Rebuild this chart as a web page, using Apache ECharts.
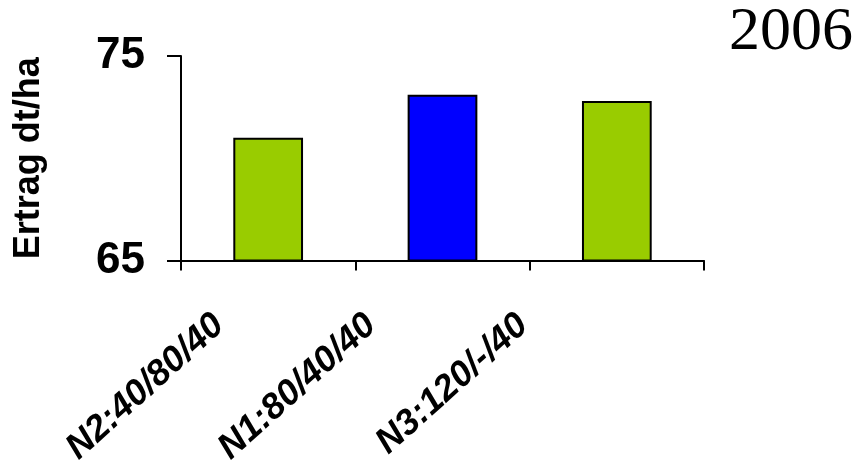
<!DOCTYPE html>
<html>
<head>
<meta charset="utf-8">
<script src="https://cdn.jsdelivr.net/npm/echarts@6/dist/echarts.min.js"></script>
<style>
  html, body { margin: 0; padding: 0; background: #fff; }
  #chart { width: 858px; height: 466px; }
</style>
</head>
<body>
<div id="chart"></div>
<script>
// Yield per fertiliser variant, 2006
var categories = ['N2:40/80/40', 'N1:80/40/40', 'N3:120/-/40'];
var yieldValues = [71.0, 73.1, 72.8];
var barColors = ['#99CC00', '#0000FF', '#99CC00'];
var yTicks = [65, 75];
var yearLabel = '2006';
var axisTitle = 'Ertrag dt/ha';

var labelFont = 'Liberation Sans';

var chart = echarts.init(document.getElementById('chart'), null, { renderer: 'canvas' });
chart.setOption({
  animation: false,
  backgroundColor: '#fff',
  title: {
    text: yearLabel,
    right: 0,
    top: -3,
    textStyle: { fontFamily: 'Liberation Serif', fontSize: 62, fontWeight: 'normal', color: '#000' }
  },
  grid: [
    // plot area
    { left: 181, right: 154, top: 56, bottom: 205.5, containLabel: false, outerBoundsMode: 'none' },
    // narrower band carrying the slanted category captions
    { left: 143, right: 259, top: 56, bottom: 205.5, containLabel: false, outerBoundsMode: 'none' }
  ],
  xAxis: [{
    type: 'category',
    gridIndex: 0,
    data: categories,
    axisLine: { lineStyle: { color: '#000', width: 2 } },
    axisTick: { show: true, length: 10, lineStyle: { color: '#000', width: 2 } },
    axisLabel: { show: false }
  }, {
    type: 'category',
    gridIndex: 1,
    data: categories,
    axisLine: { show: false },
    axisTick: { show: false },
    axisLabel: {
      interval: 0,
      rotate: 42,
      margin: 60,
      fontFamily: labelFont,
      fontSize: 36,
      fontWeight: 'bold',
      fontStyle: 'italic',
      color: '#000'
    }
  }],
  yAxis: [{
    type: 'value',
    gridIndex: 0,
    min: yTicks[0],
    max: yTicks[yTicks.length - 1],
    interval: yTicks[1] - yTicks[0],
    name: axisTitle,
    nameLocation: 'middle',
    nameRotate: 90,
    nameGap: 134,
    nameTextStyle: { fontFamily: labelFont, fontSize: 36, fontWeight: 'bold', color: '#000' },
    axisLine: { show: true, lineStyle: { color: '#000', width: 2 } },
    axisTick: { show: true, length: 14, lineStyle: { color: '#000', width: 2 } },
    axisLabel: {
      margin: 36,
      fontFamily: labelFont,
      fontSize: 44,
      fontWeight: 'bold',
      color: '#000'
    },
    splitLine: { show: false }
  }, {
    type: 'value',
    gridIndex: 1,
    show: false
  }],
  series: [{
    type: 'bar',
    xAxisIndex: 0,
    yAxisIndex: 0,
    barWidth: '40%',
    data: yieldValues.map(function (v, i) {
      return { value: v, itemStyle: { color: barColors[i] } };
    }),
    itemStyle: { borderColor: '#000', borderWidth: 2 }
  }]
});
</script>
</body>
</html>
